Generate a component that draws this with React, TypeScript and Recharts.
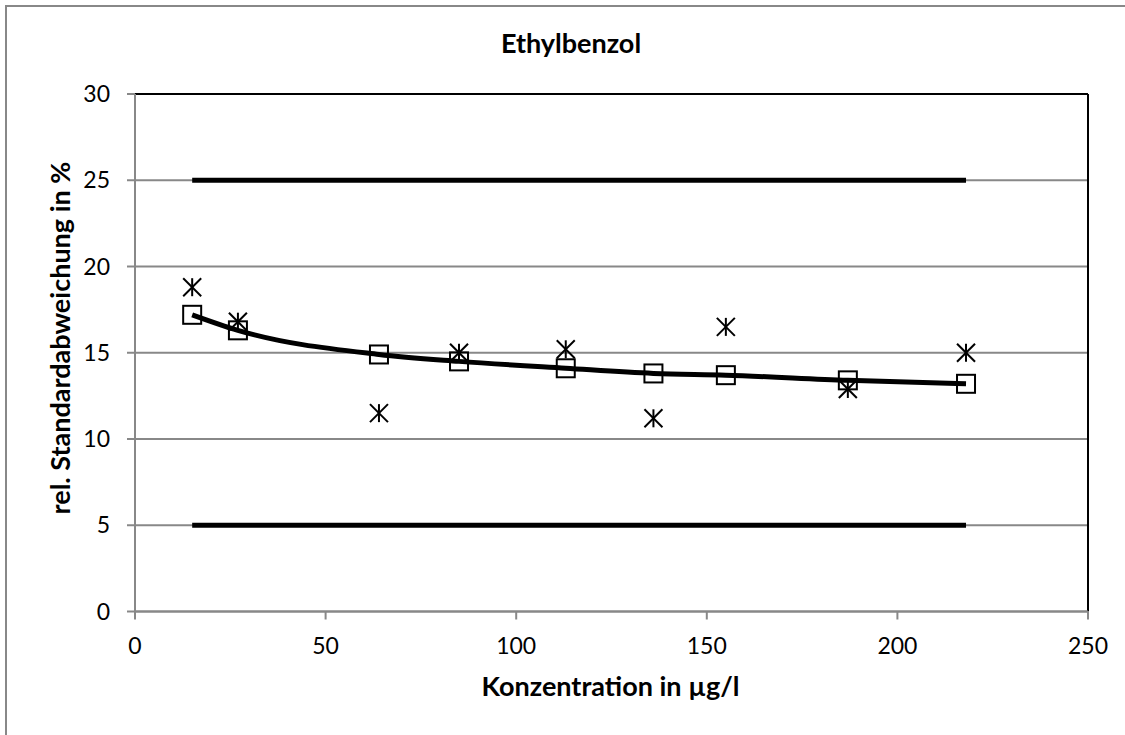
import React from 'react';
import { ComposedChart, Line, XAxis, YAxis, CartesianGrid, ReferenceLine, Label } from 'recharts';

// Konzentration (µg/l) der Proben
const konzentration = [15, 27, 64, 85, 113, 136, 155, 187, 218];
// geglättete rel. Standardabweichung (Anpassung, Quadrate)
const fitRsd = [17.2, 16.3, 14.9, 14.5, 14.1, 13.8, 13.7, 13.4, 13.2];
// gemessene rel. Standardabweichung (Sterne)
const messRsd = [18.8, 16.8, 11.5, 15.0, 15.2, 11.2, 16.5, 12.9, 15.0];
// Grenzwerte
const grenzeOben = 25;
const grenzeUnten = 5;

const xTicks = [0, 50, 100, 150, 200, 250];
const yTicks = [0, 5, 10, 15, 20, 25, 30];

const last = konzentration.length - 1;
const tableData = konzentration.map((x, i) => ({
  x,
  fit: fitRsd[i],
  mess: messRsd[i],
  oben: i === 0 || i === last ? grenzeOben : null,
  unten: i === 0 || i === last ? grenzeUnten : null,
}));

const FONT = 'Lato, "Open Sans", sans-serif';
const GRAY = '#888888';
const TITLE_SIZE = 27;

const SquareDot = (props: any) => {
  const { cx, cy, index } = props;
  if (cx == null || cy == null) return null;
  return (
    <rect key={`sq-${index}`} x={cx - 9} y={cy - 9} width={18} height={18} fill="none" stroke="#000" strokeWidth={2} />
  );
};

const StarDot = (props: any) => {
  const { cx, cy, index } = props;
  if (cx == null || cy == null) return null;
  const r = 9;
  return (
    <g key={`st-${index}`} stroke="#000" strokeWidth={2}>
      <line x1={cx - r} y1={cy - r} x2={cx + r} y2={cy + r} />
      <line x1={cx - r} y1={cy + r} x2={cx + r} y2={cy - r} />
      <line x1={cx} y1={cy - r} x2={cx} y2={cy + r} />
    </g>
  );
};

const YTitle = () => {
  const x = 70;
  const y = 338;
  return (
    <text x={x} y={y} transform={`rotate(-90, ${x}, ${y})`} textAnchor="middle"
      fontFamily={FONT} fontWeight="bold" fontSize={TITLE_SIZE} fill="#000">
      rel. Standardabweichung in %
    </text>
  );
};

const XTitle = (props: any) => {
  const { viewBox } = props;
  return (
    <text x={viewBox.x + viewBox.width / 2 - 1} y={696} textAnchor="middle"
      fontFamily={FONT} fontWeight="bold" fontSize={TITLE_SIZE} fill="#000">
      Konzentration in µg/l
    </text>
  );
};

const App: React.FC = () => {
  return (
    <div style={{ position: 'absolute', left: 0, top: 0, width: 1125, height: 735, overflow: 'hidden', background: '#fff' }}>
      <div style={{ position: 'absolute', left: 5, top: 5, width: 1200, height: 800, borderTop: `2px solid ${GRAY}`, borderLeft: `2px solid ${GRAY}` }} />
      <svg width={1125} height={80} style={{ position: 'absolute', left: 0, top: 0 }}>
        <text x={571} y={53} textAnchor="middle" fontFamily={FONT} fontWeight="bold" fontSize={TITLE_SIZE} fill="#000">
          Ethylbenzol
        </text>
      </svg>
      <div style={{ position: 'absolute', left: 0, top: 0 }}>
        <ComposedChart width={1125} height={735} data={tableData} margin={{ top: 94, right: 37, bottom: 63.5, left: 75 }}>
          <CartesianGrid horizontal vertical={false} stroke={GRAY} strokeWidth={2} />
          <XAxis type="number" dataKey="x" domain={[0, 250]} ticks={xTicks} height={60}
            axisLine={{ stroke: GRAY, strokeWidth: 2 }} tickLine={{ stroke: GRAY, strokeWidth: 2 }} tickSize={8} tickMargin={18}
            tick={{ fill: '#000', fontSize: 23, fontFamily: FONT }}>
            <Label content={<XTitle />} />
          </XAxis>
          <YAxis type="number" domain={[0, 30]} ticks={yTicks} width={60}
            axisLine={{ stroke: GRAY, strokeWidth: 2 }} tickLine={{ stroke: GRAY, strokeWidth: 2 }} tickSize={8} tickMargin={17}
            tick={{ fill: '#000', fontSize: 23, fontFamily: FONT }}>
            <Label content={<YTitle />} />
          </YAxis>
          <ReferenceLine y={30} stroke="#000" strokeWidth={2} />
          <ReferenceLine x={250} stroke="#000" strokeWidth={2} />
          <Line type="linear" dataKey="oben" stroke="#000" strokeWidth={5} dot={false} activeDot={false} connectNulls isAnimationActive={false} />
          <Line type="linear" dataKey="unten" stroke="#000" strokeWidth={5} dot={false} activeDot={false} connectNulls isAnimationActive={false} />
          <Line type="monotone" dataKey="fit" stroke="#000" strokeWidth={5} dot={<SquareDot />} activeDot={false} isAnimationActive={false} />
          <Line type="linear" dataKey="mess" stroke="none" strokeWidth={0} dot={<StarDot />} activeDot={false} isAnimationActive={false} />
        </ComposedChart>
      </div>
    </div>
  );
};

export default App;
